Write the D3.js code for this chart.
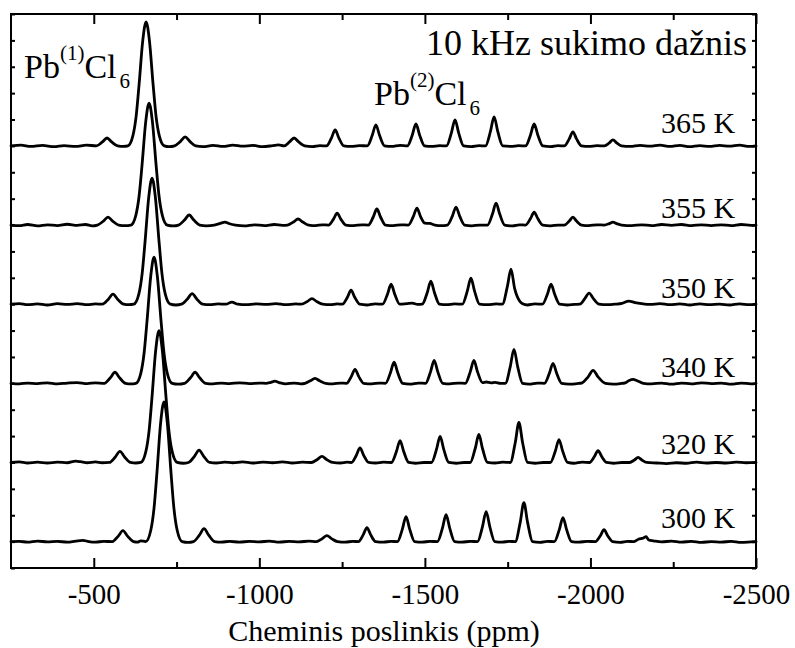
<!DOCTYPE html>
<html>
<head>
<meta charset="utf-8">
<script src="https://cdn.jsdelivr.net/npm/d3@7/dist/d3.min.js"></script>
<style>
  html, body { margin: 0; padding: 0; background: #fff; }
  svg { display: block; }
  text { font-family: "Liberation Serif", "Times New Roman", serif; fill: #000; }
</style>
</head>
<body>
<svg id="chart" width="795" height="648"></svg>
<script>
// 207Pb MAS NMR spectra, spinning rate 10 kHz, stacked by temperature.
// Each spectrum: [chemical shift (ppm), intensity (a.u.)], ordered by decreasing ppm.

const temperatures = ["365 K", "355 K", "350 K", "340 K", "320 K", "300 K"];
const stackOffsets = [160, 130, 100, 70, 40, 10];   // vertical offset of each trace (a.u.)
const labelLift = [4.9, 2.7, 2.4, 2.4, 3.2, 5.0];    // temperature label above its trace (a.u.)

const spectrum365 = [[-250,0],[-280,0.3],[-310,-0.2],[-345,0.2],[-380,-0.3],[-410,0.1],[-445,-0.2],[-478,0.3],[-508,0],[-526,1.5],[-540,3.0],[-554,1.5],[-572,0],[-590,-0.2],[-603,0],[-618,3.8],[-628,11.3],[-637,23.5],[-648,40.0],[-658,47.0],[-668,40.0],[-679,23.5],[-688,11.3],[-698,3.8],[-713,0],[-728,-0.3],[-744,0],[-762,1.7],[-776,3.4],[-790,1.7],[-808,0],[-830,-0.3],[-860,0.2],[-890,-0.2],[-920,0.3],[-950,-0.1],[-980,0.2],[-1010,-0.3],[-1040,0.1],[-1058,0.4],[-1075,0],[-1091,1.5],[-1105,3.0],[-1119,1.5],[-1137,0],[-1160,-0.3],[-1183,0.1],[-1203,0],[-1218,3.05],[-1229,6.1],[-1240,3.05],[-1255,0],[-1277,-0.2],[-1302,0.1],[-1326,0],[-1341,4.0],[-1352,8.0],[-1363,4.0],[-1378,0],[-1400,-0.2],[-1425,0.2],[-1447,0],[-1462,4.15],[-1473,8.3],[-1484,4.15],[-1499,0],[-1520,-0.2],[-1545,0.1],[-1565,0],[-1580,4.95],[-1591,9.9],[-1602,4.95],[-1617,0],[-1640,-0.3],[-1663,0.1],[-1683,0],[-1698,5.5],[-1709,11.0],[-1720,5.5],[-1735,0],[-1760,-0.2],[-1783,0.1],[-1804,0],[-1819,4.15],[-1830,8.3],[-1841,4.15],[-1856,0],[-1880,-0.3],[-1902,0.1],[-1921,0],[-1936,2.65],[-1947,5.3],[-1958,2.65],[-1973,0],[-1995,-0.2],[-2020,0.1],[-2042,0],[-2057,1.15],[-2068,2.3],[-2079,1.15],[-2094,0],[-2120,-0.2],[-2150,0.2],[-2180,-0.1],[-2210,0.3],[-2240,-0.2],[-2270,0.2],[-2300,-0.3],[-2330,0.1],[-2360,-0.2],[-2390,0.2],[-2420,-0.1],[-2450,0.3],[-2480,-0.2],[-2500,0]];

const spectrum355 = [[-250,0],[-275,-0.2],[-300,0.2],[-330,-0.3],[-360,0.1],[-390,-0.2],[-420,0.3],[-450,-0.1],[-475,0.2],[-495,-0.3],[-511,0],[-529,1.5],[-543,3.0],[-557,1.5],[-575,0],[-595,-0.2],[-612,0],[-627,3.7],[-637,11.1],[-646,23.1],[-657,39.3],[-667,46.2],[-677,39.3],[-688,23.1],[-697,11.1],[-707,3.7],[-722,0],[-740,-0.3],[-756,0],[-774,1.9],[-788,3.8],[-802,1.9],[-820,0],[-840,-0.3],[-864,0],[-882,0.6],[-896,1.1],[-910,0.5],[-928,0],[-955,-0.3],[-985,0.1],[-1015,-0.2],[-1045,0.2],[-1070,-0.1],[-1085,0],[-1103,1.15],[-1117,2.3],[-1131,1.15],[-1149,0],[-1170,-0.2],[-1190,0.1],[-1209,0],[-1224,2.25],[-1235,4.5],[-1246,2.25],[-1261,0],[-1285,-0.2],[-1310,0.1],[-1329,0],[-1344,3.05],[-1355,6.1],[-1366,3.05],[-1381,0],[-1405,-0.2],[-1428,0.1],[-1450,0],[-1465,3.2],[-1476,6.4],[-1487,3.2],[-1500,0.7],[-1515,0.6],[-1530,0],[-1550,-0.2],[-1568,0],[-1583,3.4],[-1594,6.8],[-1605,3.4],[-1620,0],[-1642,-0.3],[-1665,0],[-1689,0],[-1704,4.15],[-1715,8.3],[-1726,4.15],[-1741,0],[-1765,-0.3],[-1785,0.1],[-1804,0],[-1819,2.45],[-1830,4.9],[-1841,2.45],[-1856,0],[-1880,-0.3],[-1903,0],[-1921,0],[-1936,1.5],[-1947,3.0],[-1958,1.5],[-1973,0],[-1995,-0.2],[-2020,0.1],[-2042,0],[-2057,0.55],[-2068,1.1],[-2079,0.55],[-2094,0],[-2125,-0.2],[-2155,0.1],[-2185,-0.2],[-2215,0.2],[-2245,-0.1],[-2275,0.2],[-2305,-0.2],[-2335,0.1],[-2365,-0.2],[-2395,0.1],[-2425,-0.2],[-2455,0.2],[-2485,-0.1],[-2500,0]];

const spectrum350 = [[-250,0],[-275,0.2],[-300,-0.2],[-330,0.1],[-360,-0.3],[-390,0.2],[-420,-0.1],[-450,0.2],[-480,-0.2],[-505,0.1],[-526,0],[-544,1.9],[-558,3.8],[-572,1.9],[-590,0],[-606,-0.2],[-621,0],[-636,3.8],[-646,11.5],[-655,23.9],[-666,40.6],[-676,47.8],[-686,40.6],[-697,23.9],[-706,11.5],[-716,3.8],[-731,0],[-748,-0.3],[-765,0],[-783,2.0],[-797,4.0],[-811,2.0],[-829,0],[-850,-0.2],[-875,0.1],[-899,0],[-917,0.8],[-935,0],[-960,-0.2],[-990,0.1],[-1020,-0.1],[-1050,0.2],[-1080,-0.2],[-1110,0.1],[-1127,0],[-1145,1.05],[-1159,2.1],[-1173,1.05],[-1191,0],[-1215,-0.2],[-1235,0.1],[-1251,0],[-1266,2.65],[-1277,5.3],[-1288,2.65],[-1303,0],[-1325,-0.3],[-1350,0.1],[-1372,0],[-1387,3.8],[-1398,7.6],[-1409,3.8],[-1424,0],[-1445,0.2],[-1462,0.4],[-1478,-0.1],[-1492,0],[-1507,4.35],[-1518,8.7],[-1529,4.35],[-1544,0],[-1565,-0.2],[-1590,0.1],[-1613,0],[-1628,4.95],[-1639,9.9],[-1650,4.95],[-1665,0],[-1690,-0.2],[-1715,0.1],[-1734,0],[-1749,6.65],[-1760,13.3],[-1771,6.0],[-1786,1.2],[-1795,0.2],[-1810,-0.3],[-1832,0.1],[-1855,0],[-1870,3.8],[-1881,7.6],[-1892,3.8],[-1907,0],[-1930,-0.3],[-1952,-0.1],[-1968,0],[-1983,2.1],[-1996,4.2],[-2009,2.1],[-2026,0],[-2050,-0.2],[-2075,0],[-2095,0.3],[-2116,1.2],[-2135,0.6],[-2155,0.2],[-2180,-0.1],[-2210,0.2],[-2240,-0.2],[-2270,0.1],[-2300,-0.3],[-2330,0.1],[-2360,-0.2],[-2390,0],[-2420,-0.3],[-2450,0.1],[-2480,-0.2],[-2500,0]];

const spectrum340 = [[-250,0],[-275,-0.2],[-300,0.1],[-330,-0.1],[-360,0.2],[-390,-0.2],[-420,0.1],[-450,0.3],[-480,-0.1],[-505,0.2],[-532,0],[-550,2.1],[-564,4.2],[-578,2.1],[-596,0],[-612,-0.2],[-627,0],[-642,3.8],[-652,11.5],[-661,23.9],[-672,40.6],[-682,47.8],[-692,40.6],[-703,23.9],[-712,11.5],[-722,3.8],[-737,0],[-755,-0.3],[-774,0],[-792,2.1],[-806,4.2],[-820,2.1],[-838,0],[-860,-0.2],[-885,0.1],[-910,-0.1],[-940,0.2],[-970,-0.1],[-1000,0.1],[-1020,0],[-1035,0.4],[-1047,0.8],[-1060,0.3],[-1080,-0.2],[-1105,0.1],[-1125,-0.2],[-1138,0],[-1154,0.95],[-1168,1.9],[-1182,0.95],[-1200,0],[-1222,-0.2],[-1245,0.1],[-1263,0],[-1278,2.65],[-1289,5.3],[-1300,2.65],[-1315,0],[-1340,-0.2],[-1362,0.1],[-1381,0],[-1396,4.0],[-1407,8.0],[-1418,4.0],[-1433,0],[-1455,-0.3],[-1480,0.1],[-1502,0],[-1517,4.35],[-1528,8.7],[-1539,4.35],[-1554,0],[-1575,-0.2],[-1600,0.1],[-1622,0],[-1637,4.35],[-1648,8.7],[-1659,4.35],[-1674,0.3],[-1685,0.5],[-1700,0.2],[-1712,0.4],[-1728,0],[-1743,0],[-1758,6.45],[-1769,12.9],[-1780,6.45],[-1795,0],[-1815,-0.3],[-1840,0.1],[-1861,0],[-1876,3.8],[-1887,7.6],[-1898,3.8],[-1913,0],[-1935,-0.3],[-1960,-0.1],[-1975,0.2],[-1993,2.45],[-2008,4.9],[-2023,2.45],[-2045,0],[-2070,-0.3],[-2090,-0.1],[-2105,0.2],[-2117,1.1],[-2129,1.5],[-2141,1.0],[-2160,0],[-2185,-0.2],[-2215,0.1],[-2245,-0.3],[-2275,0.1],[-2305,-0.2],[-2335,0.2],[-2365,-0.1],[-2395,0.1],[-2425,-0.3],[-2455,0.1],[-2485,-0.2],[-2500,0]];

const spectrum320 = [[-250,0],[-275,0.2],[-300,-0.2],[-330,0.1],[-360,-0.2],[-390,0.1],[-420,-0.1],[-445,0.5],[-460,0.3],[-480,-0.1],[-505,0.2],[-525,-0.1],[-547,0],[-565,2.1],[-579,4.2],[-593,2.1],[-611,0],[-627,-0.2],[-642,0],[-657,4.0],[-667,12.0],[-676,25.0],[-687,42.5],[-697,50.0],[-707,42.5],[-718,25.0],[-727,12.0],[-737,4.0],[-752,0],[-770,-0.3],[-786,0],[-804,2.35],[-818,4.7],[-832,2.35],[-850,0],[-870,-0.2],[-895,0.1],[-920,-0.1],[-950,0.2],[-980,-0.2],[-1010,0.1],[-1040,-0.1],[-1070,0.2],[-1100,-0.2],[-1130,0.1],[-1157,0],[-1175,1.15],[-1189,2.3],[-1203,1.15],[-1221,0],[-1245,-0.2],[-1265,0.1],[-1278,0],[-1293,2.75],[-1304,5.5],[-1315,2.75],[-1330,0],[-1352,-0.2],[-1375,0.1],[-1399,0],[-1414,4.15],[-1425,8.3],[-1436,4.15],[-1451,0],[-1472,-0.3],[-1497,0],[-1520,0],[-1535,4.95],[-1546,9.9],[-1557,4.95],[-1572,0],[-1595,-0.3],[-1618,0],[-1637,0],[-1652,5.3],[-1663,10.6],[-1674,5.3],[-1689,0],[-1712,-0.2],[-1735,0.1],[-1758,0],[-1773,7.6],[-1784,15.2],[-1795,7.6],[-1810,0],[-1833,-0.3],[-1857,0],[-1879,0],[-1894,4.35],[-1905,8.7],[-1916,4.35],[-1931,0],[-1950,-0.3],[-1975,0.1],[-1997,0],[-2012,2.25],[-2023,4.5],[-2034,2.25],[-2049,0],[-2070,-0.3],[-2095,0],[-2118,0],[-2133,0.95],[-2144,1.9],[-2155,0.95],[-2170,0],[-2200,-0.2],[-2230,-0.4],[-2260,-0.1],[-2290,-0.3],[-2320,0.1],[-2350,-0.2],[-2380,0],[-2410,-0.2],[-2440,0.1],[-2470,-0.1],[-2500,0]];

const spectrum300 = [[-250,0],[-275,0.1],[-300,-0.2],[-330,0.2],[-360,-0.1],[-390,0.1],[-420,-0.2],[-445,0.2],[-467,0.5],[-485,0],[-505,-0.2],[-530,0.1],[-556,0],[-574,2.1],[-588,4.2],[-602,2.1],[-620,0],[-632,-0.2],[-642,0.3],[-657,0],[-672,4.2],[-682,12.7],[-691,26.5],[-702,45.1],[-712,53.0],[-722,45.1],[-733,26.5],[-742,12.7],[-752,4.2],[-767,0],[-785,-0.3],[-801,0],[-819,2.45],[-833,4.9],[-847,2.45],[-865,0],[-885,-0.2],[-910,0.1],[-940,-0.2],[-970,0.1],[-1000,-0.1],[-1030,0.2],[-1060,-0.2],[-1090,0.1],[-1120,-0.1],[-1150,0.2],[-1172,0],[-1190,1.15],[-1204,2.3],[-1218,1.15],[-1236,0],[-1260,-0.2],[-1282,0.1],[-1299,0],[-1314,2.65],[-1325,5.3],[-1336,2.65],[-1351,0],[-1375,-0.2],[-1398,0.1],[-1417,0],[-1432,4.75],[-1443,9.5],[-1454,4.75],[-1469,0],[-1492,-0.2],[-1515,0.1],[-1538,0],[-1553,5.1],[-1564,10.2],[-1575,5.1],[-1590,0],[-1612,-0.2],[-1637,0.1],[-1659,0],[-1674,5.7],[-1685,11.4],[-1696,5.7],[-1711,0],[-1733,-0.2],[-1755,0.1],[-1773,0],[-1788,7.4],[-1799,14.8],[-1810,7.4],[-1825,0],[-1848,-0.3],[-1870,0.1],[-1891,0],[-1906,4.55],[-1917,9.1],[-1928,4.55],[-1943,0],[-1965,-0.2],[-1990,0.1],[-2015,0],[-2030,2.25],[-2041,4.5],[-2052,2.25],[-2067,0],[-2090,-0.3],[-2112,0.1],[-2130,0],[-2145,0.9],[-2160,1.4],[-2168,1.9],[-2176,0.6],[-2190,0.3],[-2215,-0.1],[-2245,0.2],[-2275,-0.2],[-2305,0.1],[-2335,-0.3],[-2365,0],[-2395,-0.2],[-2425,0.1],[-2455,-0.3],[-2485,-0.1],[-2500,0]];

const spectra = [spectrum365, spectrum355, spectrum350, spectrum340, spectrum320, spectrum300];

const xDomain = [-250, -2500];
const yDomain = [0, 210];
const majorTicks = [-500, -1000, -1500, -2000, -2500];
const minorTicks = [-750, -1250, -1750, -2250];
const yTicks = d3.range(0, 211, 10);
const xTitle = "Cheminis poslinkis (ppm)";
const rateNote = "10 kHz sukimo dažnis";

// ---- layout ----
const W = 795, H = 648;
const plot = { left: 11, right: 756, top: 14, bottom: 568 };
const FONT = '"Liberation Serif", "Times New Roman", serif';

const svg = d3.select("#chart");
svg.append("rect").attr("width", W).attr("height", H).attr("fill", "#fff");

const x = d3.scaleLinear().domain(xDomain).range([plot.left, plot.right]);
const y = d3.scaleLinear().domain(yDomain).range([plot.bottom, plot.top]);

// ---- traces ----
const line = d3.line().curve(d3.curveMonotoneX);
const traces = svg.append("g").attr("class", "traces");
spectra.forEach((s, i) => {
  const off = stackOffsets[i];
  traces.append("path")
    .attr("d", line.x(d => x(d[0])).y(d => y(d[1] + off))(s))
    .attr("fill", "none")
    .attr("stroke", "#000")
    .attr("stroke-width", 2.8)
    .attr("stroke-linejoin", "round")
    .attr("stroke-linecap", "round");
});

// ---- frame and ticks ----
const axisStyle = g => {
  g.select(".domain").remove();
  g.selectAll(".tick line").attr("stroke", "#000").attr("stroke-width", 2);
};

// bottom: labelled major ticks + minor ticks, pointing inward
const bottom = svg.append("g").attr("transform", `translate(0,${plot.bottom})`)
  .call(d3.axisBottom(x).tickValues(majorTicks).tickSize(-10).tickFormat(d => String(d)))
  .call(axisStyle);
bottom.selectAll(".tick text")
  .attr("y", 36).attr("dy", null)
  .attr("font-family", FONT).attr("font-size", 29).attr("fill", "#000");
svg.append("g").attr("transform", `translate(0,${plot.bottom})`)
  .call(d3.axisBottom(x).tickValues(minorTicks).tickSize(-6).tickFormat(""))
  .call(axisStyle);

// top
svg.append("g").attr("transform", `translate(0,${plot.top})`)
  .call(d3.axisTop(x).tickValues(majorTicks).tickSize(-10).tickFormat(""))
  .call(axisStyle);
svg.append("g").attr("transform", `translate(0,${plot.top})`)
  .call(d3.axisTop(x).tickValues(minorTicks).tickSize(-6).tickFormat(""))
  .call(axisStyle);

// left / right
svg.append("g").attr("transform", `translate(${plot.left},0)`)
  .call(d3.axisLeft(y).tickValues(yTicks).tickSize(-4).tickFormat(""))
  .call(axisStyle);
svg.append("g").attr("transform", `translate(${plot.right},0)`)
  .call(d3.axisRight(y).tickValues(yTicks).tickSize(-4).tickFormat(""))
  .call(axisStyle);

svg.append("rect")
  .attr("x", plot.left).attr("y", plot.top)
  .attr("width", plot.right - plot.left).attr("height", plot.bottom - plot.top)
  .attr("fill", "none").attr("stroke", "#000").attr("stroke-width", 2);

// ---- text ----
svg.append("text")
  .attr("x", 384).attr("y", 641)
  .attr("text-anchor", "middle").attr("font-size", 30)
  .text(xTitle);

svg.append("text")
  .attr("x", 747).attr("y", 55)
  .attr("text-anchor", "end").attr("font-size", 36)
  .text(rateNote);

// temperature labels, right-aligned just inside the frame
const labelPpm = -2437;
temperatures.forEach((t, i) => {
  svg.append("text")
    .attr("x", x(labelPpm)).attr("y", y(stackOffsets[i] + labelLift[i]))
    .attr("text-anchor", "end").attr("font-size", 30)
    .text(t);
});

// site labels Pb(1)Cl6 and Pb(2)Cl6
function siteLabel(px, py, site) {
  const t = svg.append("text").attr("x", px).attr("y", py).attr("font-size", 34);
  t.append("tspan").text("Pb");
  t.append("tspan").attr("font-size", 21).attr("dy", -18).text(`(${site})`);
  t.append("tspan").attr("dy", 18).text("Cl");
  t.append("tspan").attr("font-size", 21).attr("dy", 10).attr("dx", 3).text("6");
}
siteLabel(24, 78, 1);
siteLabel(374, 105, 2);
</script>
</body>
</html>
